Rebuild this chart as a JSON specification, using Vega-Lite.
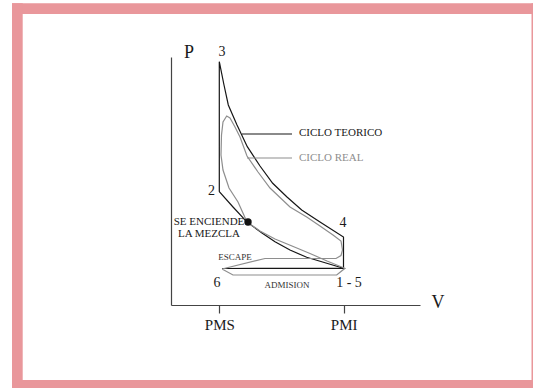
{
  "$schema": "https://vega.github.io/schema/vega-lite/v6.json",
  "width": 249,
  "height": 248,
  "autosize": "none",
  "padding": {"left": 171, "top": 57, "right": 113, "bottom": 83},
  "background": "white",
  "config": {"view": {"stroke": null}},
  "datasets": {
    "frame": [
      {"x": -159, "x2": 362, "y": 301.7, "y2": 291},
      {"x": -159, "x2": -148.3, "y": 301.7, "y2": -83},
      {"x": -159, "x2": 362, "y": -75, "y2": -83},
      {"x": 360.5, "x2": 362, "y": 301.7, "y2": -83}
    ],
    "curves": [
      {"path": "teorico", "ciclo": "teorico", "i": 1, "x": 48.3, "y": 113.3},
      {"path": "teorico", "ciclo": "teorico", "i": 2, "x": 48.3, "y": 243.3},
      {"path": "teorico", "ciclo": "teorico", "i": 3, "x": 53, "y": 220},
      {"path": "teorico", "ciclo": "teorico", "i": 4, "x": 57.3, "y": 200},
      {"path": "teorico", "ciclo": "teorico", "i": 5, "x": 66, "y": 180},
      {"path": "teorico", "ciclo": "teorico", "i": 6, "x": 76.3, "y": 158.3},
      {"path": "teorico", "ciclo": "teorico", "i": 7, "x": 89, "y": 139},
      {"path": "teorico", "ciclo": "teorico", "i": 8, "x": 101.7, "y": 121.7},
      {"path": "teorico", "ciclo": "teorico", "i": 9, "x": 116, "y": 108},
      {"path": "teorico", "ciclo": "teorico", "i": 10, "x": 130.7, "y": 95},
      {"path": "teorico", "ciclo": "teorico", "i": 11, "x": 149, "y": 83},
      {"path": "teorico", "ciclo": "teorico", "i": 12, "x": 172.5, "y": 68},
      {"path": "teorico", "ciclo": "teorico", "i": 13, "x": 172.5, "y": 36.7},
      {"path": "teorico", "ciclo": "teorico", "i": 14, "x": 135.7, "y": 47.7},
      {"path": "teorico", "ciclo": "teorico", "i": 15, "x": 119, "y": 55},
      {"path": "teorico", "ciclo": "teorico", "i": 16, "x": 104, "y": 63.3},
      {"path": "teorico", "ciclo": "teorico", "i": 17, "x": 91, "y": 72},
      {"path": "teorico", "ciclo": "teorico", "i": 18, "x": 76.3, "y": 82.7},
      {"path": "teorico", "ciclo": "teorico", "i": 19, "x": 62, "y": 98},
      {"path": "teorico", "ciclo": "teorico", "i": 20, "x": 48.3, "y": 113.3},
      {"path": "teorico_escape", "ciclo": "teorico", "i": 1, "x": 51, "y": 36.5},
      {"path": "teorico_escape", "ciclo": "teorico", "i": 2, "x": 172.5, "y": 36.7},
      {"path": "real", "ciclo": "real", "i": 1, "x": 51, "y": 36},
      {"path": "real", "ciclo": "real", "i": 2, "x": 62, "y": 30},
      {"path": "real", "ciclo": "real", "i": 3, "x": 165.7, "y": 30},
      {"path": "real", "ciclo": "real", "i": 4, "x": 174, "y": 36.7},
      {"path": "real", "ciclo": "real", "i": 5, "x": 156, "y": 44},
      {"path": "real", "ciclo": "real", "i": 6, "x": 139, "y": 51.5},
      {"path": "real", "ciclo": "real", "i": 7, "x": 121, "y": 59},
      {"path": "real", "ciclo": "real", "i": 8, "x": 104, "y": 66},
      {"path": "real", "ciclo": "real", "i": 9, "x": 89, "y": 74},
      {"path": "real", "ciclo": "real", "i": 10, "x": 76, "y": 83},
      {"path": "real", "ciclo": "real", "i": 11, "x": 67, "y": 103},
      {"path": "real", "ciclo": "real", "i": 12, "x": 58, "y": 117},
      {"path": "real", "ciclo": "real", "i": 13, "x": 52, "y": 135},
      {"path": "real", "ciclo": "real", "i": 14, "x": 50, "y": 150},
      {"path": "real", "ciclo": "real", "i": 15, "x": 50.5, "y": 170},
      {"path": "real", "ciclo": "real", "i": 16, "x": 52, "y": 183},
      {"path": "real", "ciclo": "real", "i": 17, "x": 55.7, "y": 189},
      {"path": "real", "ciclo": "real", "i": 18, "x": 59, "y": 187},
      {"path": "real", "ciclo": "real", "i": 19, "x": 64, "y": 178},
      {"path": "real", "ciclo": "real", "i": 20, "x": 69, "y": 168},
      {"path": "real", "ciclo": "real", "i": 21, "x": 76, "y": 149},
      {"path": "real", "ciclo": "real", "i": 22, "x": 87, "y": 133},
      {"path": "real", "ciclo": "real", "i": 23, "x": 99, "y": 117},
      {"path": "real", "ciclo": "real", "i": 24, "x": 119, "y": 98},
      {"path": "real", "ciclo": "real", "i": 25, "x": 135.7, "y": 88},
      {"path": "real", "ciclo": "real", "i": 26, "x": 149, "y": 79},
      {"path": "real", "ciclo": "real", "i": 27, "x": 162, "y": 70},
      {"path": "real", "ciclo": "real", "i": 28, "x": 170, "y": 64},
      {"path": "real", "ciclo": "real", "i": 29, "x": 171.5, "y": 55},
      {"path": "real", "ciclo": "real", "i": 30, "x": 170, "y": 49.5},
      {"path": "real", "ciclo": "real", "i": 31, "x": 165, "y": 46.5},
      {"path": "real", "ciclo": "real", "i": 32, "x": 94, "y": 46.5},
      {"path": "real", "ciclo": "real", "i": 33, "x": 51, "y": 36},
      {"path": "leader_teorico", "ciclo": "teorico", "i": 1, "x": 71, "y": 171},
      {"path": "leader_teorico", "ciclo": "teorico", "i": 2, "x": 121, "y": 171},
      {"path": "leader_real", "ciclo": "real", "i": 1, "x": 76, "y": 147},
      {"path": "leader_real", "ciclo": "real", "i": 2, "x": 121, "y": 147}
    ],
    "labels": [
      {"kind": "axisletter", "t": "P", "x": 18, "y": 252},
      {"kind": "axisletter", "t": "V", "x": 267, "y": 2},
      {"kind": "num", "t": "3", "x": 51, "y": 253},
      {"kind": "num", "t": "2", "x": 40.5, "y": 114},
      {"kind": "num", "t": "4", "x": 172, "y": 82},
      {"kind": "num", "t": "6", "x": 46, "y": 22},
      {"kind": "num", "t": "1 - 5", "x": 178, "y": 22},
      {"kind": "teorico", "t": "CICLO TEORICO", "x": 128, "y": 172},
      {"kind": "real", "t": "CICLO REAL", "x": 128, "y": 147},
      {"kind": "note", "t": "SE ENCIENDE", "x": 38, "y": 83},
      {"kind": "note", "t": "LA MEZCLA", "x": 38, "y": 71},
      {"kind": "small", "t": "ESCAPE", "x": 64, "y": 48},
      {"kind": "small", "t": "ADMISION", "x": 116, "y": 20}
    ],
    "dot": [{"x": 77, "y": 83}]
  },
  "encoding": {
    "x": {
      "field": "x", "type": "quantitative",
      "scale": {"domain": [0, 249], "nice": false, "zero": false},
      "axis": {
        "title": null, "values": [48.3, 172.7],
        "labelExpr": "datum.value < 100 ? 'PMS' : 'PMI'",
        "grid": false, "tickSize": 8, "tickColor": "#444", "tickWidth": 1.2,
        "domainColor": "#444", "domainWidth": 1.2,
        "labelFont": "Liberation Serif", "labelFontSize": 15, "labelColor": "#1a1a1a",
        "labelPadding": 4, "labelFlush": false, "labelOverlap": false
      }
    },
    "y": {
      "field": "y", "type": "quantitative",
      "scale": {"domain": [0, 248], "nice": false, "zero": false},
      "axis": {
        "title": null, "ticks": false, "labels": false, "grid": false,
        "domainColor": "#444", "domainWidth": 1.2
      }
    }
  },
  "layer": [
    {
      "data": {"name": "frame"},
      "mark": {"type": "rect", "color": "#e9979b"},
      "encoding": {"x2": {"field": "x2"}, "y2": {"field": "y2"}}
    },
    {
      "data": {"name": "curves"},
      "mark": {"type": "line", "strokeWidth": 1.2, "interpolate": "linear"},
      "encoding": {
        "detail": {"field": "path"},
        "order": {"field": "i", "type": "quantitative"},
        "color": {"field": "ciclo", "type": "nominal", "scale": {"domain": ["teorico", "real"], "range": ["#161616", "#8e8e8e"]}, "legend": null}
      }
    },
    {
      "data": {"name": "labels"},
      "transform": [{"filter": "datum.kind == 'axisletter'"}],
      "mark": {"type": "text", "font": "Liberation Serif", "fontSize": 18, "color": "#1a1a1a", "align": "center", "baseline": "middle"},
      "encoding": {"text": {"field": "t"}}
    },
    {
      "data": {"name": "labels"},
      "transform": [{"filter": "datum.kind == 'num'"}],
      "mark": {"type": "text", "font": "Liberation Serif", "fontSize": 14, "color": "#1a1a1a", "align": "center", "baseline": "middle"},
      "encoding": {"text": {"field": "t"}}
    },
    {
      "data": {"name": "labels"},
      "transform": [{"filter": "datum.kind == 'teorico'"}],
      "mark": {"type": "text", "font": "Liberation Serif", "fontSize": 11, "color": "#1a1a1a", "align": "left", "baseline": "middle"},
      "encoding": {"text": {"field": "t"}}
    },
    {
      "data": {"name": "labels"},
      "transform": [{"filter": "datum.kind == 'real'"}],
      "mark": {"type": "text", "font": "Liberation Serif", "fontSize": 11, "color": "#8e8e8e", "align": "left", "baseline": "middle"},
      "encoding": {"text": {"field": "t"}}
    },
    {
      "data": {"name": "labels"},
      "transform": [{"filter": "datum.kind == 'note'"}],
      "mark": {"type": "text", "font": "Liberation Serif", "fontSize": 11, "color": "#1a1a1a", "align": "center", "baseline": "middle"},
      "encoding": {"text": {"field": "t"}}
    },
    {
      "data": {"name": "labels"},
      "transform": [{"filter": "datum.kind == 'small'"}],
      "mark": {"type": "text", "font": "Liberation Serif", "fontSize": 9, "color": "#333333", "align": "center", "baseline": "middle"},
      "encoding": {"text": {"field": "t"}}
    },
    {
      "data": {"name": "dot"},
      "mark": {"type": "point", "filled": true, "shape": "circle", "size": 55, "color": "#111111", "opacity": 1}
    }
  ]
}
